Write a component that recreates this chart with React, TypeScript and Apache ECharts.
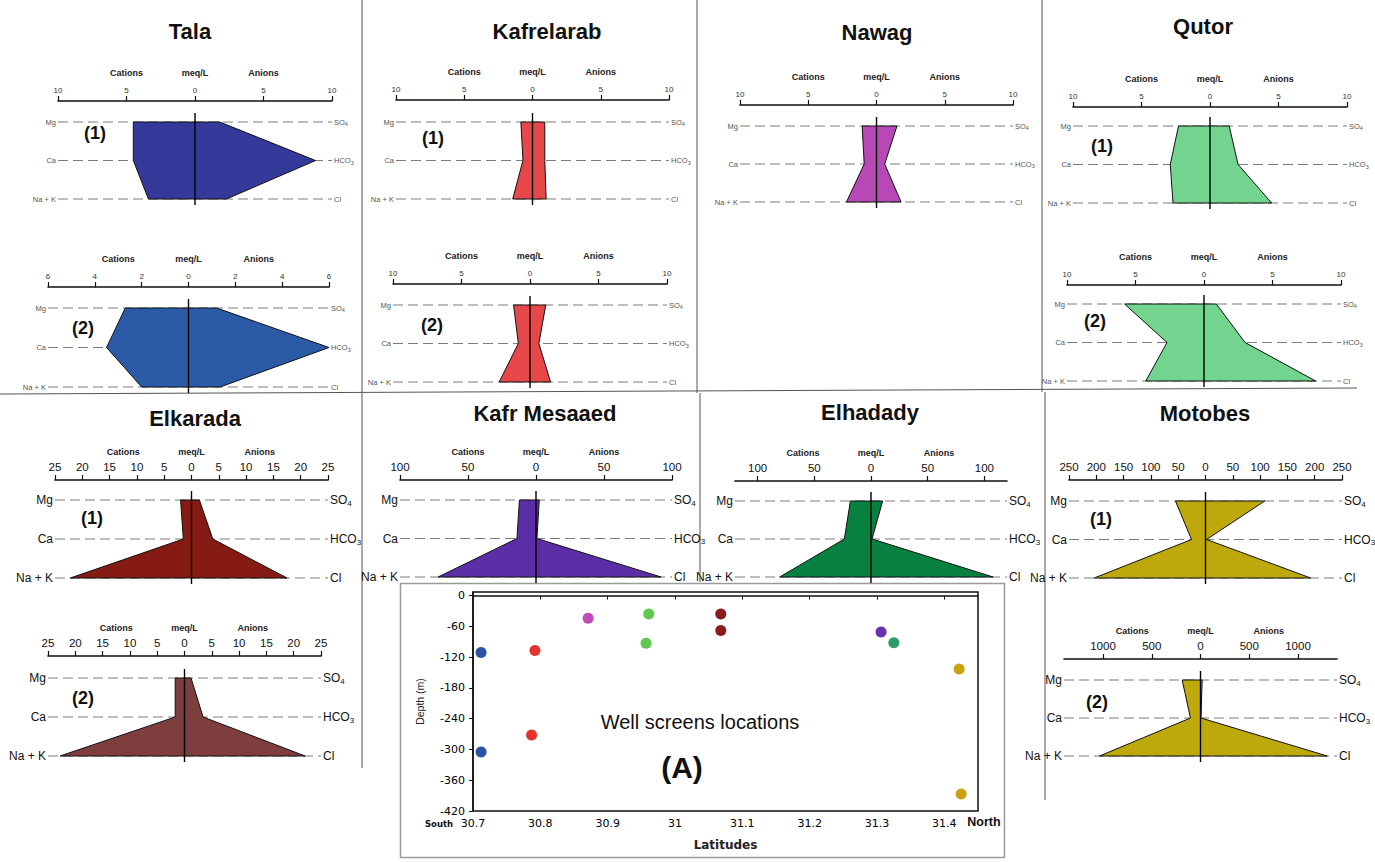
import { useEffect, useRef } from "react";
import * as echarts from "echarts";

// ---------- data ----------
const cationIons = ["Mg", "Ca", "Na + K"];
const anionIons = ["SO4", "HCO3", "Cl"];

const talaCations1 = [4.5, 4.5, 3.4];
const talaAnions1 = [1.8, 8.8, 2.3];
const talaCations2 = [2.7, 3.5, 2.0];
const talaAnions2 = [1.2, 6.0, 1.35];
const kafrelarabCations1 = [0.85, 0.7, 1.45];
const kafrelarabAnions1 = [0.9, 0.9, 1.0];
const kafrelarabCations2 = [1.2, 0.85, 2.25];
const kafrelarabAnions2 = [1.15, 0.65, 1.5];
const nawagCations = [1.05, 0.9, 2.2];
const nawagAnions = [1.5, 0.6, 1.8];
const qutorCations1 = [2.3, 2.9, 2.7];
const qutorAnions1 = [1.4, 2.05, 4.5];
const qutorCations2 = [5.8, 2.7, 4.25];
const qutorAnions2 = [0.9, 3.0, 8.15];
const elkaradaCations1 = [2.0, 1.5, 22.2];
const elkaradaAnions1 = [1.45, 3.9, 17.5];
const elkaradaCations2 = [1.7, 1.7, 22.8];
const elkaradaAnions2 = [1.2, 3.4, 22.1];
const kafrMesaaedCations = [12.2, 14, 72];
const kafrMesaaedAnions = [2.4, 0.7, 92];
const elhadadyCations = [18.2, 23.5, 80.6];
const elhadadyAnions = [10.3, 0.9, 107.8];
const motobesCations1 = [55, 25.6, 203.8];
const motobesAnions1 = [108.5, 2, 192.6];
const motobesCations2 = [188, 103, 1036];
const motobesAnions2 = [17, 5, 1300];

const ticks10 = [-10, -5, 0, 5, 10];
const ticks6 = [-6, -4, -2, 0, 2, 4, 6];
const ticks25 = [-25, -20, -15, -10, -5, 0, 5, 10, 15, 20, 25];
const ticks100 = [-100, -50, 0, 50, 100];
const ticks250 = [-250, -200, -150, -100, -50, 0, 50, 100, 150, 200, 250];
const ticks1000 = [-1000, -500, 0, 500, 1000];
const headerLabels = ["Cations", "meq/L", "Anions"];

const wellSites = ["Tala", "Kafrelarab", "Nawag", "Qutor", "Elkarada", "Kafr Mesaaed", "Elhadady", "Motobes"];
const wellLatitudes = [[30.712, 30.712], [30.792, 30.787], [30.871], [30.961, 30.957], [31.068, 31.068], [31.306], [31.325], [31.422, 31.425]];
const wellDepths = [[-111, -305], [-107, -272], [-44], [-36, -93], [-36, -68], [-71], [-92], [-143, -387]];
const latitudeTicks = [30.7, 30.8, 30.9, 31, 31.1, 31.2, 31.3, 31.4];
const depthTicks = [0, -60, -120, -180, -240, -300, -360, -420];

// ---------- layout / style ----------
const FONT = "'Liberation Sans', Arial, sans-serif";
const WIDE = "'DejaVu Sans', Verdana, sans-serif";
const wellColors = ["#2a53a6", "#e5322c", "#c04bb8", "#5ec94c", "#8b1a1a", "#6a2fb3", "#2e9b6b", "#c9a310"];

type Diagram = {
  cat: number[]; an: number[]; extent: number; ticks: number[];
  x0: number; x1: number; axisY: number; topY: number; botY: number;
  big: boolean; header: boolean; color: string; tag?: string; tagX?: number; tagY?: number;
};

const diagrams: Diagram[] = [
  { cat: talaCations1, an: talaAnions1, extent: 10, ticks: ticks10, x0: 58, x1: 332, axisY: 101, topY: 122, botY: 199, big: false, header: true, color: "#35399a", tag: "(1)", tagX: 95, tagY: 133 },
  { cat: talaCations2, an: talaAnions2, extent: 6, ticks: ticks6, x0: 48, x1: 329, axisY: 287, topY: 308, botY: 387, big: false, header: true, color: "#2b5ba7", tag: "(2)", tagX: 83, tagY: 328 },
  { cat: kafrelarabCations1, an: kafrelarabAnions1, extent: 10, ticks: ticks10, x0: 396, x1: 669, axisY: 100, topY: 122, botY: 199, big: false, header: true, color: "#e8474a", tag: "(1)", tagX: 433, tagY: 138 },
  { cat: kafrelarabCations2, an: kafrelarabAnions2, extent: 10, ticks: ticks10, x0: 393, x1: 667, axisY: 284, topY: 305, botY: 382, big: false, header: true, color: "#e8474a", tag: "(2)", tagX: 432, tagY: 325 },
  { cat: nawagCations, an: nawagAnions, extent: 10, ticks: ticks10, x0: 740, x1: 1013, axisY: 105, topY: 126, botY: 202, big: false, header: true, color: "#b848b5" },
  { cat: qutorCations1, an: qutorAnions1, extent: 10, ticks: ticks10, x0: 1073, x1: 1347, axisY: 107, topY: 126, botY: 203, big: false, header: true, color: "#72d48e", tag: "(1)", tagX: 1102, tagY: 146 },
  { cat: qutorCations2, an: qutorAnions2, extent: 10, ticks: ticks10, x0: 1067, x1: 1341, axisY: 285, topY: 304, botY: 381, big: false, header: true, color: "#72d48e", tag: "(2)", tagX: 1095, tagY: 321 },
  { cat: elkaradaCations1, an: elkaradaAnions1, extent: 25, ticks: ticks25, x0: 55, x1: 328, axisY: 480, topY: 500, botY: 578, big: true, header: true, color: "#861b14", tag: "(1)", tagX: 92, tagY: 518 },
  { cat: elkaradaCations2, an: elkaradaAnions2, extent: 25, ticks: ticks25, x0: 48, x1: 321, axisY: 656, topY: 678, botY: 756, big: true, header: true, color: "#7e3e3e", tag: "(2)", tagX: 83, tagY: 698 },
  { cat: kafrMesaaedCations, an: kafrMesaaedAnions, extent: 100, ticks: ticks100, x0: 400, x1: 672, axisY: 480, topY: 500, botY: 577, big: true, header: true, color: "#5c2ea6" },
  { cat: elhadadyCations, an: elhadadyAnions, extent: 120, ticks: ticks100, x0: 735, x1: 1007, axisY: 481, topY: 501, botY: 577, big: true, header: true, color: "#08803f" },
  { cat: motobesCations1, an: motobesAnions1, extent: 250, ticks: ticks250, x0: 1069, x1: 1342, axisY: 480, topY: 501, botY: 578, big: true, header: false, color: "#bea90c", tag: "(1)", tagX: 1101, tagY: 519 },
  { cat: motobesCations2, an: motobesAnions2, extent: 1400, ticks: ticks1000, x0: 1064, x1: 1337, axisY: 659, topY: 680, botY: 756, big: true, header: true, color: "#bea90c", tag: "(2)", tagX: 1097, tagY: 702 },
];

const titles = [
  { text: "Tala", x: 190, y: 31 },
  { text: "Kafrelarab", x: 547, y: 31 },
  { text: "Nawag", x: 877, y: 32 },
  { text: "Qutor", x: 1203, y: 26 },
  { text: "Elkarada", x: 195, y: 418 },
  { text: "Kafr Mesaaed", x: 545, y: 413 },
  { text: "Elhadady", x: 870, y: 412 },
  { text: "Motobes", x: 1205, y: 413 },
];

function txt(text: string, x: number, y: number, size: number, weight: string, family = FONT, align = "center", rotation = 0) {
  return {
    type: "text", x, y, rotation, silent: true, z: 10,
    style: { text, fontSize: size, fontWeight: weight, fontFamily: family, fill: "#111", align, verticalAlign: "middle", textAlign: align, textVerticalAlign: "middle" },
  };
}

function line(x1: number, y1: number, x2: number, y2: number, color = "#555", w = 1) {
  return { type: "line", silent: true, shape: { x1, y1, x2, y2 }, style: { stroke: color, lineWidth: w } };
}

function buildOption() {
  const grid: any[] = [];
  const xAxis: any[] = [];
  const yAxis: any[] = [];
  const series: any[] = [];
  const graphic: any[] = [];

  diagrams.forEach((d, gi) => {
    const labelColor = d.big ? "#111" : "#555";
    const rowSize = d.big ? 12 : 7.5;
    grid.push({ left: d.x0, top: d.topY, width: d.x1 - d.x0, height: d.botY - d.topY, containLabel: false, outerBoundsMode: "none" });
    const off = d.topY - d.axisY;
    const xi = xAxis.length;
    xAxis.push({
      gridIndex: gi, type: "value", position: "top", min: -d.extent, max: d.extent, offset: off,
      axisLine: { show: true, lineStyle: { color: "#111", width: 1.6 } },
      axisTick: { show: true, length: 5, customValues: d.ticks, lineStyle: { color: "#111", width: 1.2 } },
      axisLabel: { customValues: d.ticks, formatter: (v: number) => String(Math.abs(v)), fontSize: d.big ? 11.5 : 8, color: d.big ? "#111" : "#333", margin: 7, fontFamily: FONT },
      splitLine: { show: false },
    });
    if (d.header) {
      const hv = [-d.extent / 2, 0, d.extent / 2];
      xAxis.push({
        gridIndex: gi, type: "value", position: "top", min: -d.extent, max: d.extent, offset: off + 24,
        axisLine: { show: false }, axisTick: { show: false }, splitLine: { show: false },
        axisLabel: { customValues: hv, formatter: (v: number) => headerLabels[hv.indexOf(v)] ?? "", fontSize: 9, fontWeight: "bold", color: "#222", margin: 0, fontFamily: FONT },
      });
    }
    const yi = yAxis.length;
    yAxis.push({
      gridIndex: gi, type: "category", data: cationIons, inverse: true, boundaryGap: false, position: "left",
      axisLine: { show: false }, axisTick: { show: false }, splitLine: { show: false },
      axisLabel: { interval: 0, fontSize: rowSize, color: labelColor, margin: 2, fontFamily: FONT },
    });
    const subSize = d.big ? 8 : 5.5;
    yAxis.push({
      gridIndex: gi, type: "category", data: anionIons, inverse: true, boundaryGap: false, position: "right",
      axisLine: { show: false }, axisTick: { show: false }, splitLine: { show: false },
      axisLabel: {
        interval: 0, margin: 2, fontFamily: FONT, color: labelColor, fontSize: rowSize,
        formatter: (v: string) => {
          const m = v.match(/^(\D+)(\d*)$/);
          if (!m) return v;
          return m[2] ? `{m|${m[1]}}{s|${m[2]}}` : `{m|${m[1]}}`;
        },
        rich: {
          m: { fontSize: rowSize, color: labelColor, fontFamily: FONT },
          s: { fontSize: subSize, color: labelColor, fontFamily: FONT, padding: [d.big ? 6 : 4, 0, 0, 0] },
        },
      },
    });
    series.push({
      type: "custom", xAxisIndex: xi, yAxisIndex: yi, silent: true, data: [[0, 0]], clip: false,
      renderItem: (_p: any, api: any) => {
        const dash = [0, 1, 2].map((r) => {
          const a = api.coord([-d.extent, r]);
          const b = api.coord([d.extent, r]);
          return { type: "line", shape: { x1: a[0], y1: a[1], x2: b[0], y2: b[1] }, style: { stroke: "#7d7d7d", lineWidth: 1.2, lineDash: [10, 5] } };
        });
        const pts = [0, 1, 2].map((r) => api.coord([-d.cat[r], r])).concat([2, 1, 0].map((r) => api.coord([d.an[r], r])));
        const c0 = api.coord([0, 0]);
        const c2 = api.coord([0, 2]);
        return {
          type: "group",
          children: [
            ...dash,
            { type: "polygon", shape: { points: pts }, style: { fill: d.color, stroke: "#111", lineWidth: 1 } },
            { type: "line", shape: { x1: c0[0], y1: c0[1] - 9, x2: c2[0], y2: c2[1] + 6 }, style: { stroke: "#000", lineWidth: 1.4 } },
          ],
        };
      },
    });
    if (d.tag) graphic.push(txt(d.tag, d.tagX!, d.tagY!, 18, "bold"));
  });

  // scatter panel
  const sg = grid.length;
  grid.push({ left: 473, top: 592, width: 505, height: 219, show: true, borderColor: "#111", borderWidth: 1.5, backgroundColor: "transparent", containLabel: false, outerBoundsMode: "none" });
  const sx = xAxis.length;
  xAxis.push({
    gridIndex: sg, type: "value", position: "bottom", min: 30.7, max: 31.45,
    name: "Latitudes", nameLocation: "middle", nameGap: 28, nameTextStyle: { fontFamily: WIDE, fontSize: 12, color: "#222", fontWeight: "bold" },
    axisLine: { show: true, lineStyle: { color: "#111", width: 1.5 } },
    axisTick: { show: true, length: 4, customValues: latitudeTicks, lineStyle: { color: "#111" } },
    axisLabel: { customValues: latitudeTicks, formatter: (v: number) => String(+v.toFixed(1)), fontFamily: WIDE, fontSize: 11, color: "#000", margin: 7 },
    splitLine: { show: false },
  });
  const sy = yAxis.length;
  yAxis.push({
    gridIndex: sg, type: "value", min: -420, max: 7,
    name: "Depth (m)", nameLocation: "middle", nameGap: 48, nameRotate: 90, nameTextStyle: { fontFamily: FONT, fontSize: 10.5, color: "#222" },
    axisLine: { show: true, lineStyle: { color: "#111", width: 1.5 } },
    axisTick: { show: true, length: 4, customValues: depthTicks, lineStyle: { color: "#111" } },
    axisLabel: { customValues: depthTicks, fontFamily: WIDE, fontSize: 11, color: "#000", margin: 8 },
    splitLine: { show: false },
  });
  wellSites.forEach((name, s) => {
    series.push({
      type: "scatter", name, xAxisIndex: sx, yAxisIndex: sy, symbolSize: 11,
      itemStyle: { color: wellColors[s], opacity: 1 },
      data: wellLatitudes[s].map((lat, k) => [lat, wellDepths[s][k]]),
    });
  });

  // frames and separators
  graphic.push({ type: "rect", silent: true, shape: { x: 400.5, y: 583.5, width: 604, height: 274 }, style: { fill: "none", stroke: "#9a9a9a", lineWidth: 1.5 } });
  graphic.push(line(362, 0, 362, 768));
  graphic.push(line(697, 0, 697, 393));
  graphic.push(line(700, 393, 700, 582));
  graphic.push(line(1042, 0, 1042, 392));
  graphic.push(line(1045, 392, 1045, 800));
  graphic.push(line(0, 394, 1357, 388));

  titles.forEach((t) => graphic.push(txt(t.text, t.x, t.y, 22, "bold")));
  graphic.push(txt("Well screens locations", 700, 722, 20, "normal", "'Liberation Sans Narrow', 'Liberation Sans', Arial, sans-serif"));
  graphic.push(txt("(A)", 682, 767, 30, "bold"));
  graphic.push(txt("South", 439, 824, 8.5, "bold", WIDE));
  graphic.push(txt("North", 984, 822, 12.5, "bold"));

  return {
    animation: false,
    backgroundColor: "#ffffff",
    textStyle: { fontFamily: FONT },
    grid, xAxis, yAxis, series, graphic,
  };
}

export default function App() {
  const ref = useRef<HTMLDivElement>(null);
  useEffect(() => {
    document.body.style.margin = "0";
    const chart = echarts.init(ref.current!, undefined, { renderer: "svg" });
    chart.setOption(buildOption() as any);
    return () => chart.dispose();
  }, []);
  return <div ref={ref} style={{ width: 1375, height: 862, position: "absolute", left: 0, top: 0 }} />;
}
